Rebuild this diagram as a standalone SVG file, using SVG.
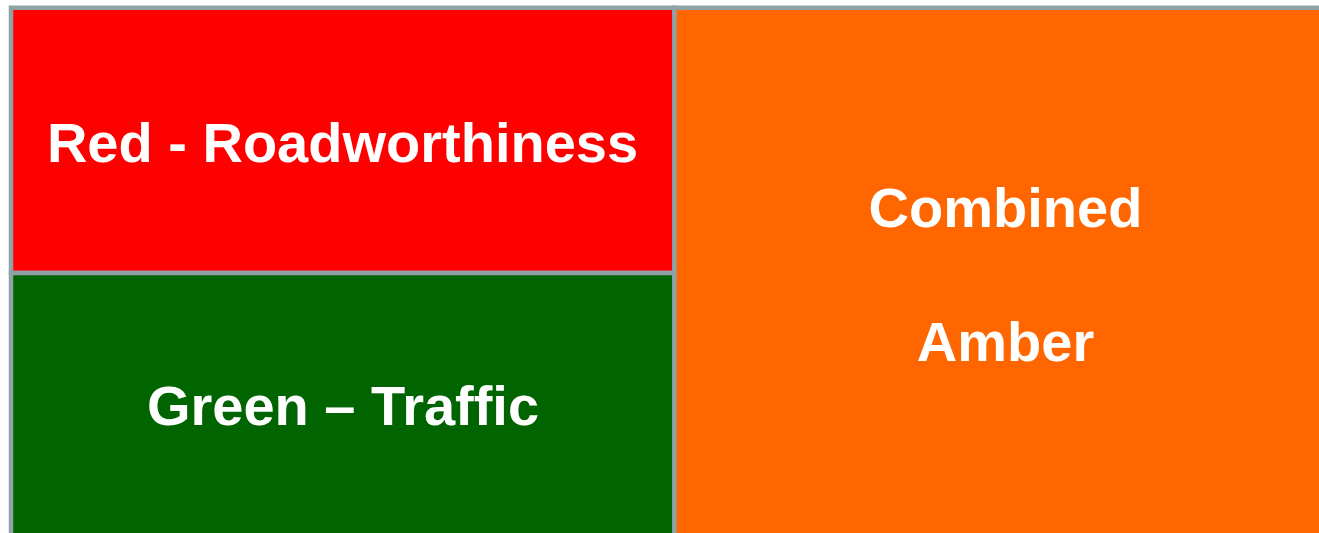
<svg xmlns="http://www.w3.org/2000/svg" width="1319" height="533" viewBox="0 0 1319 533">
<style>
.box{stroke:#8FA2A5;stroke-width:4.5}
.lbl{font-family:"Liberation Sans",Arial,sans-serif;font-weight:bold;font-size:56px;fill:#FFFFFF;text-anchor:middle}
</style>
<rect x="0" y="0" width="1319" height="533" fill="#FFFFFF"/>
<g id="red">
<rect class="box" x="11" y="7.75" width="663.5" height="265.25" fill="#FF0000"/>
<text class="lbl" x="342.5" y="162">Red - Roadworthiness</text>
</g>
<g id="green">
<rect class="box" x="11" y="273" width="663.5" height="270" fill="#006400"/>
<text class="lbl" x="343" y="425">Green – Traffic</text>
</g>
<g id="amber">
<rect class="box" x="674.5" y="7.75" width="660" height="540" fill="#FF6600"/>
<text class="lbl" x="1005.5" y="227">Combined</text>
<text class="lbl" x="1005.5" y="361">Amber</text>
</g>
<g id="connectors"/>
</svg>
